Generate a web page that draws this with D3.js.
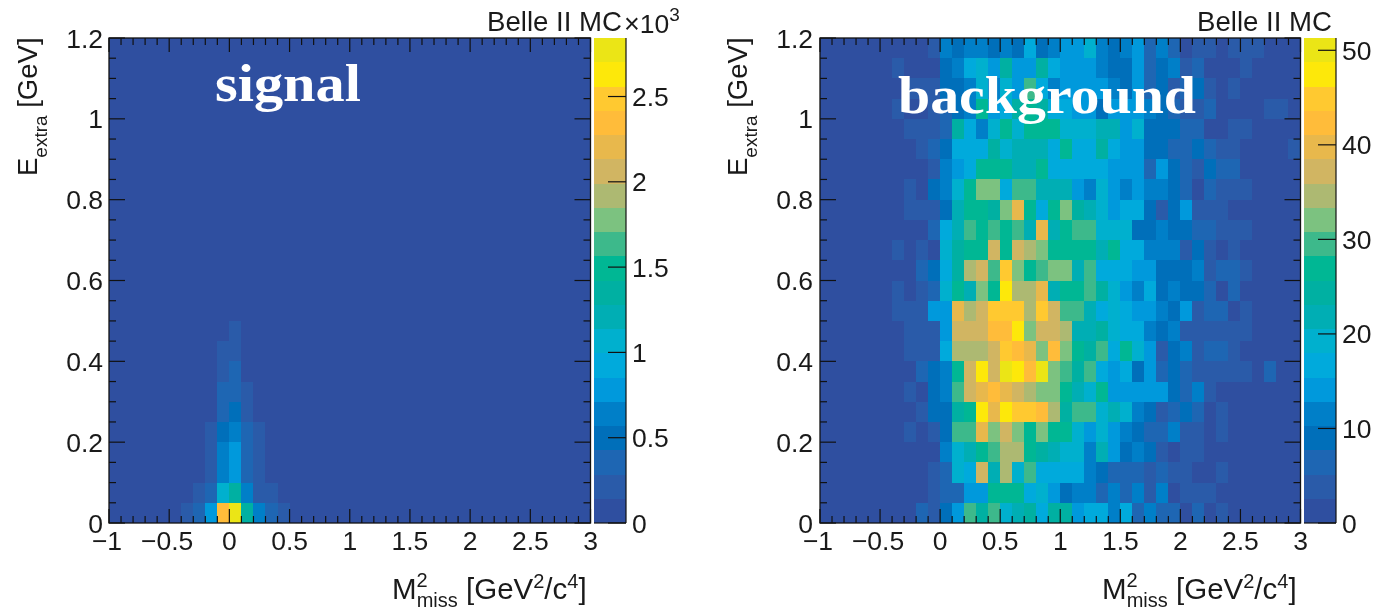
<!DOCTYPE html>
<html><head><meta charset="utf-8">
<script src="https://cdn.jsdelivr.net/npm/d3@7"></script>
<style>html,body{margin:0;padding:0;background:#fff}svg{display:block;filter:blur(.45px)}text{font-family:"Liberation Sans",Arial,sans-serif;fill:#1a1a1a}</style>
</head><body><svg id="c" width="1376" height="610"></svg>
<script>
const levelColors=["#2f4fa0","#2a5ba9","#1e66b3","#006fba","#007fc8","#0099dc","#00aadc","#00b0ce","#00aeb4","#00b0a2","#00b794","#3db98b","#7cc280","#adb972","#d1b562","#e8b84c","#ffbc3a","#ffc930","#fde80a","#ebe516"];
const xTicks=[-1,-0.5,0,0.5,1,1.5,2,2.5,3];
const yTicks=[0,0.2,0.4,0.6,0.8,1,1.2];
const signalBarTicks=[0,0.5,1,1.5,2,2.5];
const backgroundBarTicks=[0,10,20,30,40,50];
const signalMax=2843, backgroundMax=51.3;
// rows run from E_extra = 1.15-1.20 (top) to 0-0.05 (bottom); columns from M2 = -1 to 3 in 0.1 steps
const signalCounts=[
[0,0,0,0,0,0,0,0,0,0,0,0,0,0,0,0,0,0,0,0,0,0,0,0,0,0,0,0,0,0,0,0,0,0,0,0,0,0,0,0],
[0,0,0,0,0,0,0,0,0,0,0,0,0,0,0,0,0,0,0,0,0,0,0,0,0,0,0,0,0,0,0,0,0,0,0,0,0,0,0,0],
[0,0,0,0,0,0,0,0,0,0,0,0,0,0,0,0,0,0,0,0,0,0,0,0,0,0,0,0,0,0,0,0,0,0,0,0,0,0,0,0],
[0,0,0,0,0,0,0,0,0,0,0,0,0,0,0,0,0,0,0,0,0,0,0,0,0,0,0,0,0,0,0,0,0,0,0,0,0,0,0,0],
[0,0,0,0,0,0,0,0,0,0,0,0,0,0,0,0,0,0,0,0,0,0,0,0,0,0,0,0,0,0,0,0,0,0,0,0,0,0,0,0],
[0,0,0,0,0,0,0,0,0,0,0,0,0,0,0,0,0,0,0,0,0,0,0,0,0,0,0,0,0,0,0,0,0,0,0,0,0,0,0,0],
[0,0,0,0,0,0,0,0,0,0,0,0,0,0,0,0,0,0,0,0,0,0,0,0,0,0,0,0,0,0,0,0,0,0,0,0,0,0,0,0],
[0,0,0,0,0,0,0,0,0,0,0,0,0,0,0,0,0,0,0,0,0,0,0,0,0,0,0,0,0,0,0,0,0,0,0,0,0,0,0,0],
[0,0,0,0,0,0,0,0,0,0,0,0,0,0,0,0,0,0,0,0,0,0,0,0,0,0,0,0,0,0,0,0,0,0,0,0,0,0,0,0],
[0,0,0,0,0,0,0,0,0,0,0,0,0,0,0,0,0,0,0,0,0,0,0,0,0,0,0,0,0,0,0,0,0,0,0,0,0,0,0,0],
[0,0,0,0,0,0,0,0,0,0,0,0,0,0,0,0,0,0,0,0,0,0,0,0,0,0,0,0,0,0,0,0,0,0,0,0,0,0,0,0],
[0,0,0,0,0,0,0,0,0,0,0,0,0,0,0,0,0,0,0,0,0,0,0,0,0,0,0,0,0,0,0,0,0,0,0,0,0,0,0,0],
[0,0,0,0,0,0,0,0,0,0,0,0,0,0,0,0,0,0,0,0,0,0,0,0,0,0,0,0,0,0,0,0,0,0,0,0,0,0,0,0],
[0,0,0,0,0,0,0,0,0,0,0,0,0,0,0,0,0,0,0,0,0,0,0,0,0,0,0,0,0,0,0,0,0,0,0,0,0,0,0,0],
[0,0,0,0,0,0,0,0,0,0,213,0,0,0,0,0,0,0,0,0,0,0,0,0,0,0,0,0,0,0,0,0,0,0,0,0,0,0,0,0],
[0,0,0,0,0,0,0,0,0,213,213,0,0,0,0,0,0,0,0,0,0,0,0,0,0,0,0,0,0,0,0,0,0,0,0,0,0,0,0,0],
[0,0,0,0,0,0,0,0,0,213,355,0,0,0,0,0,0,0,0,0,0,0,0,0,0,0,0,0,0,0,0,0,0,0,0,0,0,0,0,0],
[0,0,0,0,0,0,0,0,0,355,355,213,0,0,0,0,0,0,0,0,0,0,0,0,0,0,0,0,0,0,0,0,0,0,0,0,0,0,0,0],
[0,0,0,0,0,0,0,0,0,355,498,213,0,0,0,0,0,0,0,0,0,0,0,0,0,0,0,0,0,0,0,0,0,0,0,0,0,0,0,0],
[0,0,0,0,0,0,0,0,213,498,640,355,213,0,0,0,0,0,0,0,0,0,0,0,0,0,0,0,0,0,0,0,0,0,0,0,0,0,0,0],
[0,0,0,0,0,0,0,0,213,640,782,355,213,0,0,0,0,0,0,0,0,0,0,0,0,0,0,0,0,0,0,0,0,0,0,0,0,0,0,0],
[0,0,0,0,0,0,0,0,213,640,782,355,213,0,0,0,0,0,0,0,0,0,0,0,0,0,0,0,0,0,0,0,0,0,0,0,0,0,0,0],
[0,0,0,0,0,0,0,213,355,1066,1350,640,213,213,0,0,0,0,0,0,0,0,0,0,0,0,0,0,0,0,0,0,0,0,0,0,0,0,0,0],
[0,0,0,0,0,0,213,355,782,2345,2772,1350,570,355,213,0,0,0,0,0,0,0,0,0,0,0,0,0,0,0,0,0,0,0,0,0,0,0,0,0]
];
const backgroundCounts=[
[0,0,0,0,0,0,0,0,1,4,12,9,12,12,9,12,9,17,9,12,14,14,19,12,9,12,14,6,12,6,1,4,4,1,4,4,4,1,0,0],
[0,0,0,0,0,0,4,1,1,1,9,12,17,19,14,24,14,14,24,17,14,14,14,12,9,9,14,6,9,12,4,6,1,1,1,4,0,0,0,0],
[0,0,0,0,0,0,0,4,4,4,9,9,12,19,12,19,14,29,17,12,14,14,14,14,12,9,14,6,9,4,6,9,4,1,4,1,0,0,0,0],
[0,0,0,0,0,0,4,1,1,4,6,9,12,27,14,17,24,27,24,17,17,14,14,9,14,14,14,12,9,6,4,4,6,1,1,1,1,4,4,1],
[0,0,0,0,0,0,0,4,4,4,6,24,17,12,19,27,19,27,27,27,19,19,19,22,22,14,19,9,9,9,6,6,1,1,4,4,1,0,0,0],
[0,0,0,0,0,0,0,0,4,6,9,17,17,17,24,19,22,22,22,17,27,17,17,24,17,14,14,9,9,6,6,9,6,4,4,1,1,0,1,4],
[0,0,0,0,0,0,0,0,1,4,12,14,17,27,27,27,22,22,27,17,17,17,17,17,14,14,14,6,14,9,6,4,9,6,6,1,0,0,0,0],
[0,0,0,0,0,0,0,4,1,9,12,19,27,32,32,17,29,29,22,22,22,14,12,19,14,12,14,12,12,9,6,1,6,4,4,4,0,0,0,0],
[0,0,0,0,0,0,0,4,4,4,9,22,27,27,24,32,40,27,17,27,32,24,22,19,14,17,17,9,4,9,14,4,4,4,0,0,0,0,0,0],
[0,0,0,0,0,0,0,0,1,6,17,22,29,27,29,27,29,22,40,22,27,29,29,19,19,19,9,9,12,9,9,6,6,4,4,4,0,0,0,0],
[0,0,0,0,0,0,4,1,4,2,19,24,27,27,37,27,37,35,32,27,27,27,27,22,27,17,17,12,12,12,4,9,4,1,4,1,0,0,0,0],
[0,0,0,0,0,0,0,0,6,9,17,24,35,37,29,45,32,27,29,32,32,22,29,17,17,17,14,14,9,9,9,12,4,6,6,4,0,0,0,0],
[0,0,0,0,0,0,4,1,4,6,19,27,22,32,27,47,35,35,40,22,27,27,29,24,19,14,12,17,9,12,9,9,6,1,6,0,0,0,0,0],
[0,0,0,0,0,0,4,4,4,14,14,40,35,37,45,45,45,35,45,37,29,29,22,17,19,17,14,14,12,9,14,4,6,6,1,4,0,0,0,0],
[0,0,0,0,0,0,0,4,4,4,14,37,37,37,42,42,47,32,37,37,35,22,22,24,19,17,17,12,9,12,4,4,4,4,4,4,0,0,0,0],
[0,0,0,0,0,0,0,4,4,4,17,35,35,35,37,45,42,40,32,42,32,27,24,29,17,27,19,14,4,9,12,4,6,6,4,0,0,0,0,0],
[0,0,0,0,0,0,0,0,6,9,12,27,37,47,37,50,47,42,50,32,29,24,29,17,14,17,9,14,6,9,6,4,4,4,4,4,1,6,1,0],
[0,0,0,0,0,0,0,4,1,9,12,29,37,40,42,40,37,35,32,32,27,22,19,27,14,14,14,14,14,9,6,12,4,0,0,0,0,0,0,0],
[0,0,0,0,0,0,0,0,4,9,9,24,27,47,40,47,45,45,42,35,24,29,29,19,22,19,12,9,4,6,9,6,1,4,0,0,0,0,0,0],
[0,0,0,0,0,0,0,4,1,4,9,29,29,40,32,37,32,27,32,27,27,19,14,19,14,12,9,6,6,12,4,4,1,4,0,0,0,0,0,0],
[0,0,0,0,0,0,0,0,0,0,12,19,22,27,29,35,35,27,24,22,19,19,12,22,14,9,12,9,4,1,4,4,0,0,0,0,0,0,0,0],
[0,0,0,0,0,0,0,0,0,4,6,19,17,37,22,35,19,29,17,17,17,17,12,9,6,6,6,4,6,4,4,1,1,4,0,0,0,0,0,0],
[0,0,0,0,0,0,0,0,0,4,6,6,14,14,27,27,27,17,19,14,9,12,12,6,12,6,12,4,12,1,4,4,4,0,0,0,0,0,0,0],
[0,0,0,0,0,0,0,0,6,4,9,14,29,24,29,19,22,24,17,24,24,14,17,17,12,17,6,12,6,6,1,6,1,4,0,0,0,0,0,0]
];
const xBinEdges=d3.range(40).map(i=>-1+i*0.1);
const yBinEdges=d3.range(24).map(k=>1.15-k*0.05);

const svg=d3.select("#c");
function subText(t,parts){parts.forEach(p=>{const s=t.append("tspan").text(p.s);s.attr("font-size",p.fs);if(p.dy)s.attr("dy",p.dy);if(p.dx)s.attr("dx",p.dx);});}

function panel(ox,plotLeft,plotRight,counts,zMax,barTicks,barValue){
  const g=svg.append("g").attr("transform",`translate(${ox},0)`);
  const x=d3.scaleLinear().domain([-1,3]).range([plotLeft,plotRight]);
  const y=d3.scaleLinear().domain([0,1.2]).range([523,38]);
  const color=d3.scaleQuantize().domain([0,zMax]).range(levelColors);
  const z=d3.scaleLinear().domain([0,zMax]).range([523,38]);
  const cells=counts.flatMap((row,k)=>row.map((v,i)=>({v,i,k})));
  g.append("g").attr("shape-rendering","crispEdges").selectAll("rect").data(cells).join("rect")
    .attr("x",d=>x(xBinEdges[d.i])).attr("y",d=>y(yBinEdges[d.k]+0.05))
    .attr("width",d=>x(xBinEdges[d.i]+0.1)-x(xBinEdges[d.i]))
    .attr("height",d=>y(yBinEdges[d.k])-y(yBinEdges[d.k]+0.05))
    .attr("fill",d=>color(d.v));
  const tk=g.append("g").attr("stroke","#111").attr("fill","none");
  tk.append("rect").attr("x",plotLeft).attr("y",38).attr("width",plotRight-plotLeft).attr("height",485).attr("stroke-width",1.3);
  const xMinor=d3.range(0,41).map(i=>-1+i*0.1), yMinor=d3.range(0,25).map(i=>i*0.05);
  xMinor.forEach(v=>{const maj=Math.abs(v*2-Math.round(v*2))<1e-6,l=maj?14:7;
    tk.append("line").attr("x1",x(v)).attr("x2",x(v)).attr("y1",523).attr("y2",523-l).attr("stroke-width",1.2);
    tk.append("line").attr("x1",x(v)).attr("x2",x(v)).attr("y1",38).attr("y2",38+l).attr("stroke-width",1.2);});
  yMinor.forEach(v=>{const maj=Math.abs(v*5-Math.round(v*5))<1e-6,l=maj?16:7;
    tk.append("line").attr("y1",y(v)).attr("y2",y(v)).attr("x1",plotLeft).attr("x2",plotLeft+l).attr("stroke-width",1.2);
    tk.append("line").attr("y1",y(v)).attr("y2",y(v)).attr("x1",plotRight).attr("x2",plotRight-l).attr("stroke-width",1.2);});
  const fs=26.5;
  g.append("g").selectAll("text").data(xTicks).join("text").attr("x",d=>x(d)-(d<0?2:0)).attr("y",550)
    .attr("text-anchor","middle").attr("font-size",fs).text(d=>d3.format("")(d).replace("-","\u2212"));
  g.append("g").selectAll("text").data(yTicks).join("text").attr("x",103).attr("y",d=>y(d)+9.5)
    .attr("text-anchor","end").attr("font-size",fs).text(d=>d3.format("")(d));
  const n=levelColors.length, bh=(523-38)/n;
  g.append("g").attr("shape-rendering","crispEdges").selectAll("rect").data(levelColors).join("rect")
    .attr("x",594).attr("y",(d,i)=>523-(i+1)*bh).attr("width",32).attr("height",bh).attr("fill",d=>d);
  g.append("line").attr("x1",626).attr("x2",626).attr("y1",38).attr("y2",523).attr("stroke","#111").attr("stroke-width",1.2);
  g.append("line").attr("x1",594).attr("x2",626).attr("y1",523).attr("y2",523).attr("stroke","#111").attr("stroke-width",1.2);
  g.append("g").selectAll("line").data(barTicks).join("line").attr("x1",608).attr("x2",626)
    .attr("y1",d=>z(barValue(d))).attr("y2",d=>z(barValue(d))).attr("stroke","#111").attr("stroke-width",1.2);
  g.append("g").selectAll("text").data(barTicks).join("text").attr("x",632).attr("y",d=>z(barValue(d))+9.5)
    .attr("font-size",fs).text(d=>d);
  g.append("text").attr("x",622).attr("y",31).attr("text-anchor","end").attr("font-size",27.6).text("Belle II MC");
  const xt=g.append("text").attr("x",392).attr("y",599);
  subText(xt,[{s:"M",fs:29.5},{s:"2",fs:20,dy:-12},{s:"miss",fs:20,dy:20,dx:-11},{s:" [GeV",fs:29.5,dy:-8},{s:"2",fs:20,dy:-11},{s:"/c",fs:29.5,dy:11},{s:"4",fs:20,dy:-11},{s:"]",fs:29.5,dy:11}]);
  const yt=g.append("text").attr("transform","translate(37,176) rotate(-90)");
  subText(yt,[{s:"E",fs:27.5},{s:"extra",fs:19,dy:10},{s:" [GeV]",fs:27.5,dy:-10}]);
}
panel(0,109,590.5,signalCounts,signalMax,signalBarTicks,d=>d*1000);
panel(710,110,590.5,backgroundCounts,backgroundMax,backgroundBarTicks,d=>d);
const ex=svg.append("text").attr("x",624).attr("y",33);
subText(ex,[{s:"\u00d7",fs:27},{s:"10",fs:26.5},{s:"3",fs:19,dy:-12}]);
svg.append("g").selectAll("text").data([{t:"signal",x:215,y:101,fs:53,w:146},{t:"background",x:898,y:113,fs:53,w:298}]).join("text")
  .attr("x",d=>d.x).attr("y",d=>d.y).attr("font-size",d=>d.fs).attr("font-weight","bold")
  .attr("textLength",d=>d.w).attr("lengthAdjust","spacingAndGlyphs")
  .style("font-family","'Liberation Serif',serif").style("fill","#fff").text(d=>d.t);
</script></body></html>
